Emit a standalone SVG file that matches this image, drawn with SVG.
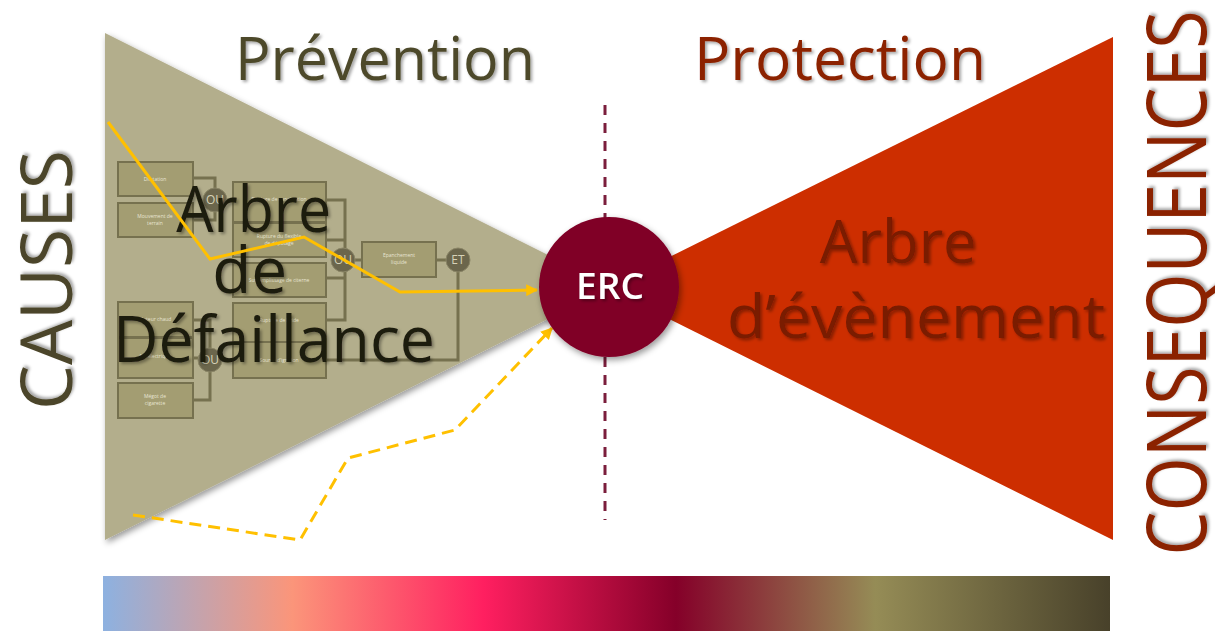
<svg xmlns="http://www.w3.org/2000/svg" width="1215" height="631" viewBox="0 0 1215 631">
<defs>
<linearGradient id="bar" x1="0" y1="0" x2="1" y2="0">
<stop offset="0" stop-color="#8db1e0"/>
<stop offset="0.188" stop-color="#fb957a"/>
<stop offset="0.378" stop-color="#ff1f60"/>
<stop offset="0.569" stop-color="#850029"/>
<stop offset="0.767" stop-color="#958c56"/>
<stop offset="1" stop-color="#48412a"/>
</linearGradient>
<filter id="sh" x="-10%" y="-10%" width="130%" height="130%">
<feDropShadow dx="2" dy="2" stdDeviation="1.5" flood-color="#000" flood-opacity="0.35"/>
</filter>
<filter id="shs" x="-20%" y="-20%" width="140%" height="140%">
<feDropShadow dx="2" dy="3" stdDeviation="3" flood-color="#000" flood-opacity="0.4"/>
</filter>
<marker id="ah" viewBox="0 0 10 10" refX="9" refY="5" markerWidth="4" markerHeight="4" orient="auto">
<path d="M0,0 L10,5 L0,10 z" fill="#ffc000"/>
</marker>
<style>
.t{font-family:"Open Sans","DejaVu Sans",sans-serif}
.box{fill:#a39d72;stroke:#76714f;stroke-width:2}
.ln{fill:none;stroke:#76714f;stroke-width:3}
.gate{fill:#6b664c;stroke:#8a8566;stroke-width:1}
.gt{font-family:"Open Sans",sans-serif;font-size:12px;fill:#d6d2b8;text-anchor:middle}
.bt{font-family:"Open Sans",sans-serif;font-size:5px;fill:#e8e5d2;text-anchor:middle}
.yl{fill:none;stroke:#ffc000;stroke-width:3}
</style>
</defs>
<rect width="1215" height="631" fill="#ffffff"/>

<g id="prevention-triangle">
<polygon points="105,33 105,540 612,287" fill="#b3ae8c" filter="url(#shs)"/>
</g>
<g id="protection-triangle">
<polygon points="1113,37 1113,540 607,288" fill="#cd2e00"/>
</g>

<g id="fault-tree">
<g class="ln-group">
<path class="ln" d="M193,178 H215 V200"/>
<path class="ln" d="M193,220 H215 V200 H233"/>
<path class="ln" d="M326,200 H345 V320 H326"/>
<path class="ln" d="M326,240 H345"/>
<path class="ln" d="M326,278 H345"/>
<path class="ln" d="M345,260 H362"/>
<path class="ln" d="M436,260 H458 V360 H326"/>
<path class="ln" d="M193,320 H210 V400 H193"/>
<path class="ln" d="M193,358 H210"/>
<path class="ln" d="M210,360 H233"/>
</g>
<rect class="box" x="118" y="162" width="75" height="34"/>
<text class="bt" x="155" y="181">Dilatation</text>
<rect class="box" x="118" y="203" width="75" height="34"/>
<text class="bt" x="155" y="218">Mouvement de</text>
<text class="bt" x="155" y="225">terrain</text>
<rect class="box" x="233" y="182" width="93" height="40"/>
<text class="bt" x="279" y="201">Rupture de canalisation</text>
<rect class="box" x="233" y="223" width="93" height="34"/>
<text class="bt" x="279" y="238">Rupture du flexible</text>
<text class="bt" x="279" y="245">de dépotage</text>
<rect class="box" x="233" y="263" width="93" height="34"/>
<text class="bt" x="279" y="282">Surremplissage de citerne</text>
<rect class="box" x="233" y="303" width="93" height="39"/>
<text class="bt" x="279" y="322">Rupture de bride</text>
<rect class="box" x="233" y="342" width="93" height="36"/>
<text class="bt" x="279" y="362">Source d'ignition</text>
<rect class="box" x="118" y="302" width="75" height="35"/>
<text class="bt" x="155" y="321">Moteur chaud</text>
<rect class="box" x="118" y="338" width="75" height="40"/>
<text class="bt" x="155" y="358">Arc électrique</text>
<rect class="box" x="118" y="383" width="75" height="35"/>
<text class="bt" x="155" y="398">Mégot de</text>
<text class="bt" x="155" y="405">cigarette</text>
<rect class="box" x="362" y="242" width="74" height="35"/>
<text class="bt" x="399" y="257">Epanchement</text>
<text class="bt" x="399" y="264">liquide</text>
<circle class="gate" cx="215" cy="200" r="12"/>
<text class="gt" x="215" y="204">OU</text>
<circle class="gate" cx="343" cy="260" r="12"/>
<text class="gt" x="343" y="264">OU</text>
<circle class="gate" cx="210" cy="360" r="12"/>
<text class="gt" x="210" y="364">OU</text>
<circle class="gate" cx="458" cy="260" r="12"/>
<text class="gt" x="458" y="264">ET</text>
</g>

<g id="titles">
<text class="t" x="385" y="80" font-size="60" fill="#4e4a2c" text-anchor="middle" textLength="300" lengthAdjust="spacingAndGlyphs" filter="url(#sh)">Prévention</text>
<text class="t" x="840" y="80" font-size="60" fill="#8c2400" text-anchor="middle" textLength="292" lengthAdjust="spacingAndGlyphs" filter="url(#sh)">Protection</text>
<text class="t" transform="translate(72,280) rotate(-90)" font-size="72" fill="#4b4529" text-anchor="middle" textLength="260" lengthAdjust="spacingAndGlyphs" filter="url(#sh)">CAUSES</text>
<text class="t" transform="translate(1206,283) rotate(-90)" font-size="82" fill="#8b2300" text-anchor="middle" textLength="545" lengthAdjust="spacingAndGlyphs" filter="url(#sh)">CONSEQUENCES</text>
</g>

<g id="arbre-defaillance">
<text class="t" font-size="64" fill="#1c1a0f" text-anchor="middle" filter="url(#sh)">
<tspan x="262" y="232" textLength="155" lengthAdjust="spacingAndGlyphs">Arbre</tspan>
<tspan x="258" y="293">de</tspan>
<tspan x="274" y="362" textLength="322" lengthAdjust="spacingAndGlyphs">Défaillance</tspan>
</text>
</g>

<g id="arbre-evenement">
<text class="t" font-size="60" fill="#7a1a00" text-anchor="middle" filter="url(#sh)">
<tspan x="906" y="263" textLength="157" lengthAdjust="spacingAndGlyphs">Arbre</tspan>
<tspan x="916" y="338" textLength="378" lengthAdjust="spacingAndGlyphs">d’évènement</tspan>
</text>
</g>

<g id="connectors">
<line x1="605" y1="105" x2="605" y2="520" stroke="#7b1e3c" stroke-width="3" stroke-dasharray="10,8"/>
<polyline class="yl" points="108,122 210,259 304,237 400,292 537,290" marker-end="url(#ah)"/>
<polyline class="yl" points="133,515 300,540 348,458 455,430 552,328" stroke-dasharray="12,7" marker-end="url(#ah)"/>
</g>

<g id="erc">
<circle cx="609" cy="287" r="70" fill="#800028" filter="url(#shs)"/>
<text x="610" y="299" font-family="Open Sans, sans-serif" font-weight="600" font-size="36" fill="#ffffff" text-anchor="middle" textLength="68" lengthAdjust="spacingAndGlyphs" filter="url(#sh)">ERC</text>
</g>

<g id="gradient-bar">
<rect x="103" y="576" width="1007" height="55" fill="url(#bar)"/>
</g>
</svg>
